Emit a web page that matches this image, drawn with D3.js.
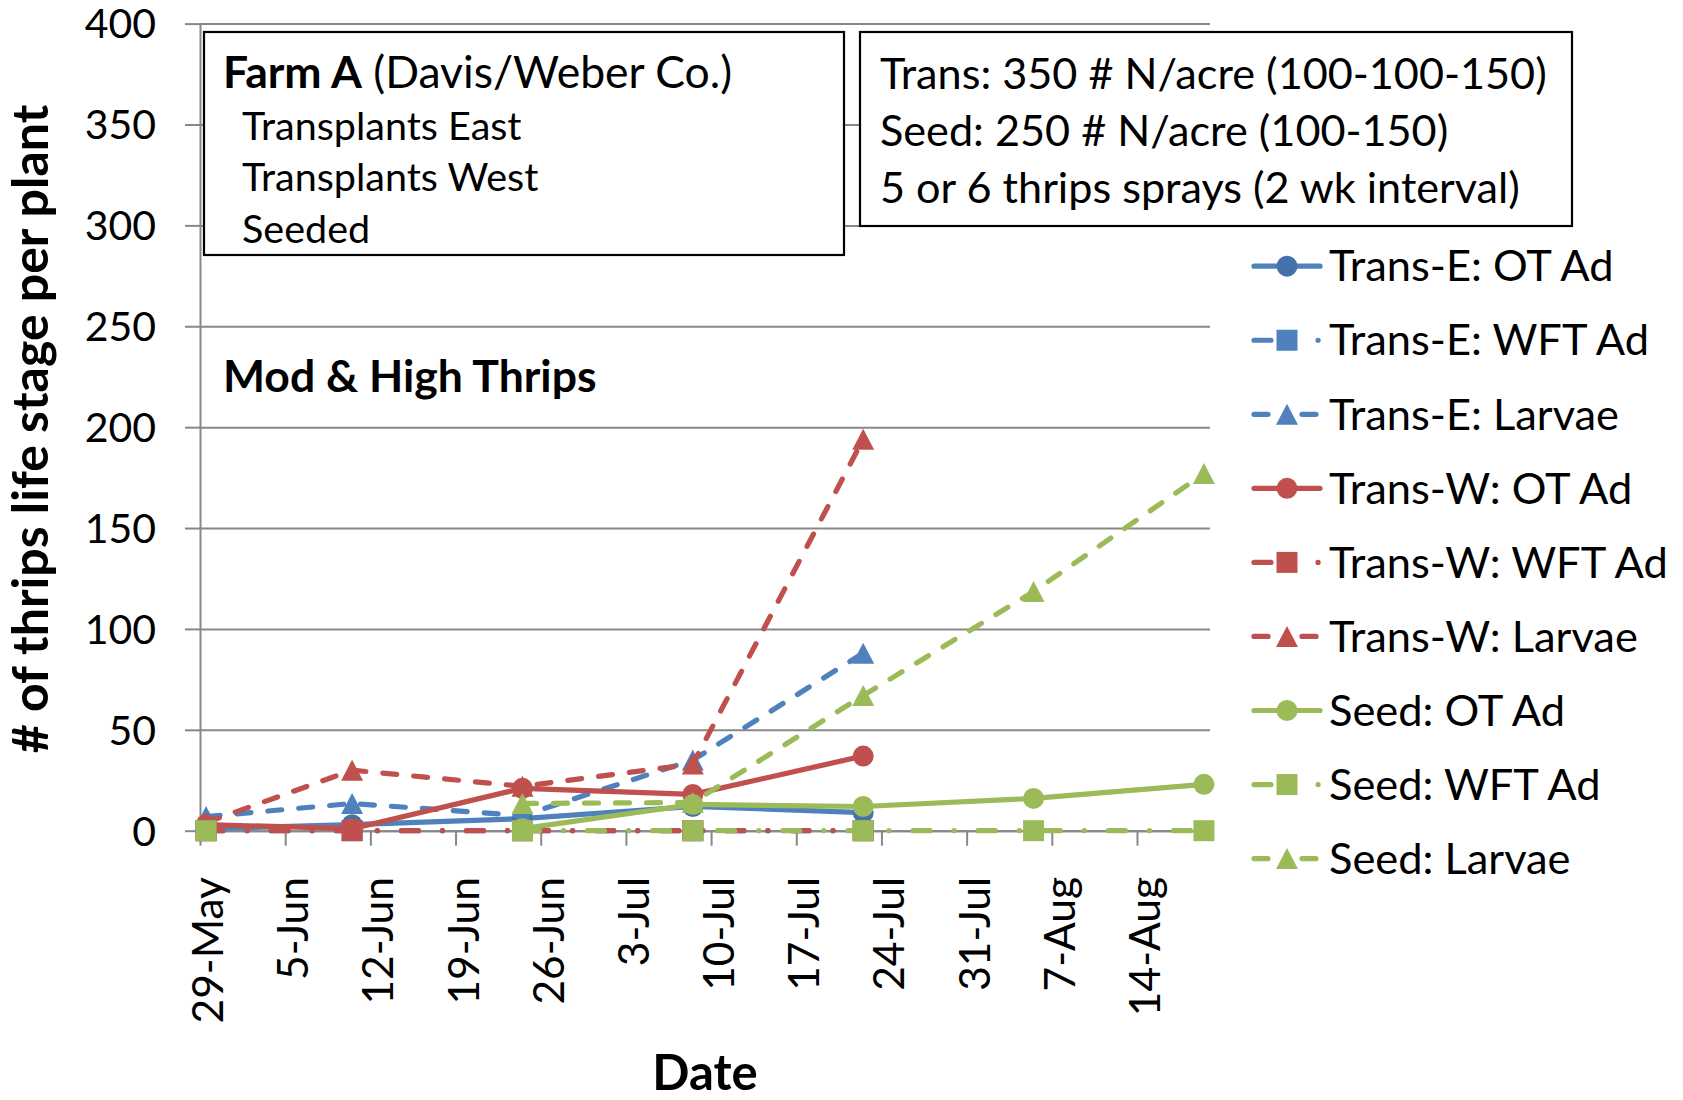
<!DOCTYPE html>
<html>
<head>
<meta charset="utf-8">
<script src="https://cdn.jsdelivr.net/npm/d3@7"></script>
<style>
  body { margin: 0; background: #fff; }
  svg { display: block; }
  text { font-family: Lato, Carlito, Calibri, sans-serif; fill: #000; }
</style>
</head>
<body>
<svg id="chart" width="1683" height="1100"></svg>
<script>
// ---- data -------------------------------------------------------------
// Sampling dates (2-week interval)
const sampleDates = ["29-May", "10-Jun", "24-Jun", "8-Jul", "22-Jul", "5-Aug", "19-Aug"];

// Thrips counts per plant (null = not sampled)
const transE_OT     = [1, 3, 6, 12, 9, null, null];
const transE_WFT    = [0, 0, 0, 0, 0, null, null];
const transE_Larvae = [7, 13.5, 7.5, 35, 88, null, null];
const transW_OT     = [3, 1, 21, 18, 37, null, null];
const transW_WFT    = [0, 0, 0, 0, 0, null, null];
const transW_Larvae = [4, 30, 22, 33, 194, null, null];
const seed_OT       = [null, null, 1, 13, 12, 16, 23];
const seed_WFT      = [0, null, 0, 0, 0, 0, 0];
const seed_Larvae   = [null, null, 13.5, 14, 67, 118.5, 177];

const seriesNames = [
  "Trans-E: OT Ad", "Trans-E: WFT Ad", "Trans-E: Larvae",
  "Trans-W: OT Ad", "Trans-W: WFT Ad", "Trans-W: Larvae",
  "Seed: OT Ad", "Seed: WFT Ad", "Seed: Larvae"
];
const seriesValues = [
  transE_OT, transE_WFT, transE_Larvae,
  transW_OT, transW_WFT, transW_Larvae,
  seed_OT, seed_WFT, seed_Larvae
];

const yTickValues = [0, 50, 100, 150, 200, 250, 300, 350, 400];
const xTickLabels = ["29-May", "5-Jun", "12-Jun", "19-Jun", "26-Jun", "3-Jul",
                     "10-Jul", "17-Jul", "24-Jul", "31-Jul", "7-Aug", "14-Aug"];
const axisEnd = "20-Aug";

const farmLines = ["Transplants East", "Transplants West", "Seeded"];
const noteLines = [
  "Trans: 350 # N/acre (100-100-150)",
  "Seed: 250 # N/acre (100-150)",
  "5 or 6 thrips sprays (2 wk interval)"
];

// ---- styles -------------------------------------------------------------
const colors = { E: "#4F81BD", W: "#C0504D", S: "#9BBB59" };
const styleOf = [
  { c: colors.E, mk: "#4372AA", dash: "solid",   shape: "circle"   },
  { c: colors.E, mk: colors.E,  dash: "dashdot", shape: "square"   },
  { c: colors.E, mk: colors.E,  dash: "dash",    shape: "triangle" },
  { c: colors.W, mk: colors.W,  dash: "solid",   shape: "circle"   },
  { c: colors.W, mk: colors.W,  dash: "dashdot", shape: "square"   },
  { c: colors.W, mk: colors.W,  dash: "dash",    shape: "triangle" },
  { c: colors.S, mk: colors.S,  dash: "solid",   shape: "circle"   },
  { c: colors.S, mk: colors.S,  dash: "dashdot", shape: "square"   },
  { c: colors.S, mk: colors.S,  dash: "dash",    shape: "triangle" }
];
const dashArrays = { solid: null, dash: "14 17", dashdot: "17 24 0.1 24" };
const LW = 5.2;

const parseDay = s => d3.utcParse("%d-%b-%Y")(s + "-2013");
const noon = s => d3.utcHour.offset(parseDay(s), 12);

// ---- scales ---------------------------------------------------------------
const x = d3.scaleUtc()
  .domain([parseDay(xTickLabels[0]), parseDay(axisEnd)])
  .range([200, 1210]);
const y = d3.scaleLinear().domain([0, 400]).range([830.7, 23.6]);

const svg = d3.select("#chart");
const gridColor = "#888888";

// gridlines
svg.append("g")
  .attr("transform", "translate(200,0)")
  .call(d3.axisLeft(y).tickValues(yTickValues).tickSize(-1010).tickFormat(""))
  .call(g => g.select(".domain").remove())
  .call(g => g.selectAll("line").attr("stroke", gridColor).attr("stroke-width", 2));

// y axis
svg.append("g")
  .attr("transform", "translate(200,0)")
  .call(d3.axisLeft(y).tickValues(yTickValues).tickSize(15).tickSizeOuter(0).tickPadding(29))
  .call(g => g.select(".domain").attr("stroke", gridColor).attr("stroke-width", 2))
  .call(g => g.selectAll("line").attr("stroke", gridColor).attr("stroke-width", 2))
  .call(g => g.selectAll("text")
    .attr("font-family", "Lato, Carlito, Calibri, sans-serif")
    .attr("font-size", 41).attr("dy", "0.35em").attr("fill", "#000"));

// x axis
svg.append("g")
  .attr("transform", `translate(0,${y(0)})`)
  .call(d3.axisBottom(x)
    .tickValues(xTickLabels.map(parseDay))
    .tickSize(15).tickSizeOuter(0)
    .tickFormat(d3.utcFormat("%-d-%b")))
  .call(g => g.select(".domain").attr("stroke", gridColor).attr("stroke-width", 2))
  .call(g => g.selectAll("line").attr("stroke", gridColor).attr("stroke-width", 2))
  .call(g => g.selectAll("text")
    .attr("font-family", "Lato, Carlito, Calibri, sans-serif")
    .attr("font-size", 42.5).attr("fill", "#000")
    .attr("x", 0).attr("y", 0).attr("dy", 0)
    .attr("text-anchor", "end")
    .attr("transform", "translate(22.5,46.3) rotate(-90)"));

// axis titles
svg.append("text")
  .attr("x", 705).attr("y", 1090)
  .attr("text-anchor", "middle")
  .attr("font-size", 49).attr("font-weight", "bold")
  .text("Date");
svg.append("text")
  .attr("transform", "translate(48,429) rotate(-90)")
  .attr("text-anchor", "middle")
  .attr("font-size", 50).attr("font-weight", "bold")
  .text("# of thrips life stage per plant");

// ---- series ---------------------------------------------------------------
function markerPath(shape) {
  if (shape === "circle") return d3.symbol(d3.symbolCircle, Math.PI * 110)();
  if (shape === "square") return "M-10.5,-10.5H10.5V10.5H-10.5Z";
  return "M0,-10.5L11,10.5H-11Z";
}

const line = d3.line()
  .defined(d => d.v != null)
  .x(d => x(d.t))
  .y(d => y(d.v));

seriesValues.forEach((vals, i) => {
  const st = styleOf[i];
  const pts = vals.map((v, j) => ({ t: noon(sampleDates[j]), v }));
  const g = svg.append("g").attr("class", "series");
  g.append("path")
    .attr("d", line(pts))
    .attr("fill", "none")
    .attr("stroke", st.c)
    .attr("stroke-width", LW)
    .attr("stroke-linecap", "round")
    .attr("stroke-linejoin", "round")
    .attr("stroke-dasharray", dashArrays[st.dash]);
  g.selectAll("path.mk")
    .data(pts.filter(d => d.v != null))
    .join("path")
    .attr("class", "mk")
    .attr("transform", d => `translate(${x(d.t)},${y(d.v)})`)
    .attr("d", markerPath(st.shape))
    .attr("fill", st.mk);
});

// ---- annotation boxes -------------------------------------------------------
svg.append("rect")
  .attr("x", 204).attr("y", 32).attr("width", 640).attr("height", 223)
  .attr("fill", "#fff").attr("stroke", "#000").attr("stroke-width", 2.2);
const t1 = svg.append("text").attr("x", 223).attr("y", 88).attr("font-size", 44.5);
t1.append("tspan").attr("font-weight", "bold").text("Farm A");
t1.append("tspan").text(" (Davis/Weber Co.)");
svg.selectAll("text.farm")
  .data(farmLines)
  .join("text")
  .attr("class", "farm")
  .attr("x", 242)
  .attr("y", (d, i) => 139.5 + i * 51.6)
  .attr("font-size", 39.5)
  .text(d => d);

svg.append("rect")
  .attr("x", 860).attr("y", 32).attr("width", 712).attr("height", 194)
  .attr("fill", "#fff").attr("stroke", "#000").attr("stroke-width", 2.2);
svg.selectAll("text.note")
  .data(noteLines)
  .join("text")
  .attr("class", "note")
  .attr("x", 880)
  .attr("y", (d, i) => 89 + i * 57.2)
  .attr("font-size", 43.2)
  .text(d => d);

svg.append("text")
  .attr("x", 223).attr("y", 392)
  .attr("font-size", 44.5).attr("font-weight", "bold")
  .text("Mod & High Thrips");

// ---- legend -----------------------------------------------------------------
const legendSample = {
  solid: "M1254,0H1320",
  dash: "M1254,0H1268M1302,0H1316",
  dashdot: "M1254,0H1271M1318,0H1318.1"
};
const legend = svg.append("g");
seriesNames.forEach((name, i) => {
  const st = styleOf[i];
  const row = legend.append("g").attr("transform", `translate(0,${266.2 + i * 74.05})`);
  row.append("path")
    .attr("d", legendSample[st.dash])
    .attr("fill", "none")
    .attr("stroke", st.c)
    .attr("stroke-width", LW)
    .attr("stroke-linecap", "round");
  row.append("path")
    .attr("transform", "translate(1287,0)")
    .attr("d", markerPath(st.shape))
    .attr("fill", st.mk);
  row.append("text")
    .attr("x", 1329).attr("dy", "0.35em")
    .attr("font-size", 43.4)
    .text(name);
});
</script>
</body>
</html>
